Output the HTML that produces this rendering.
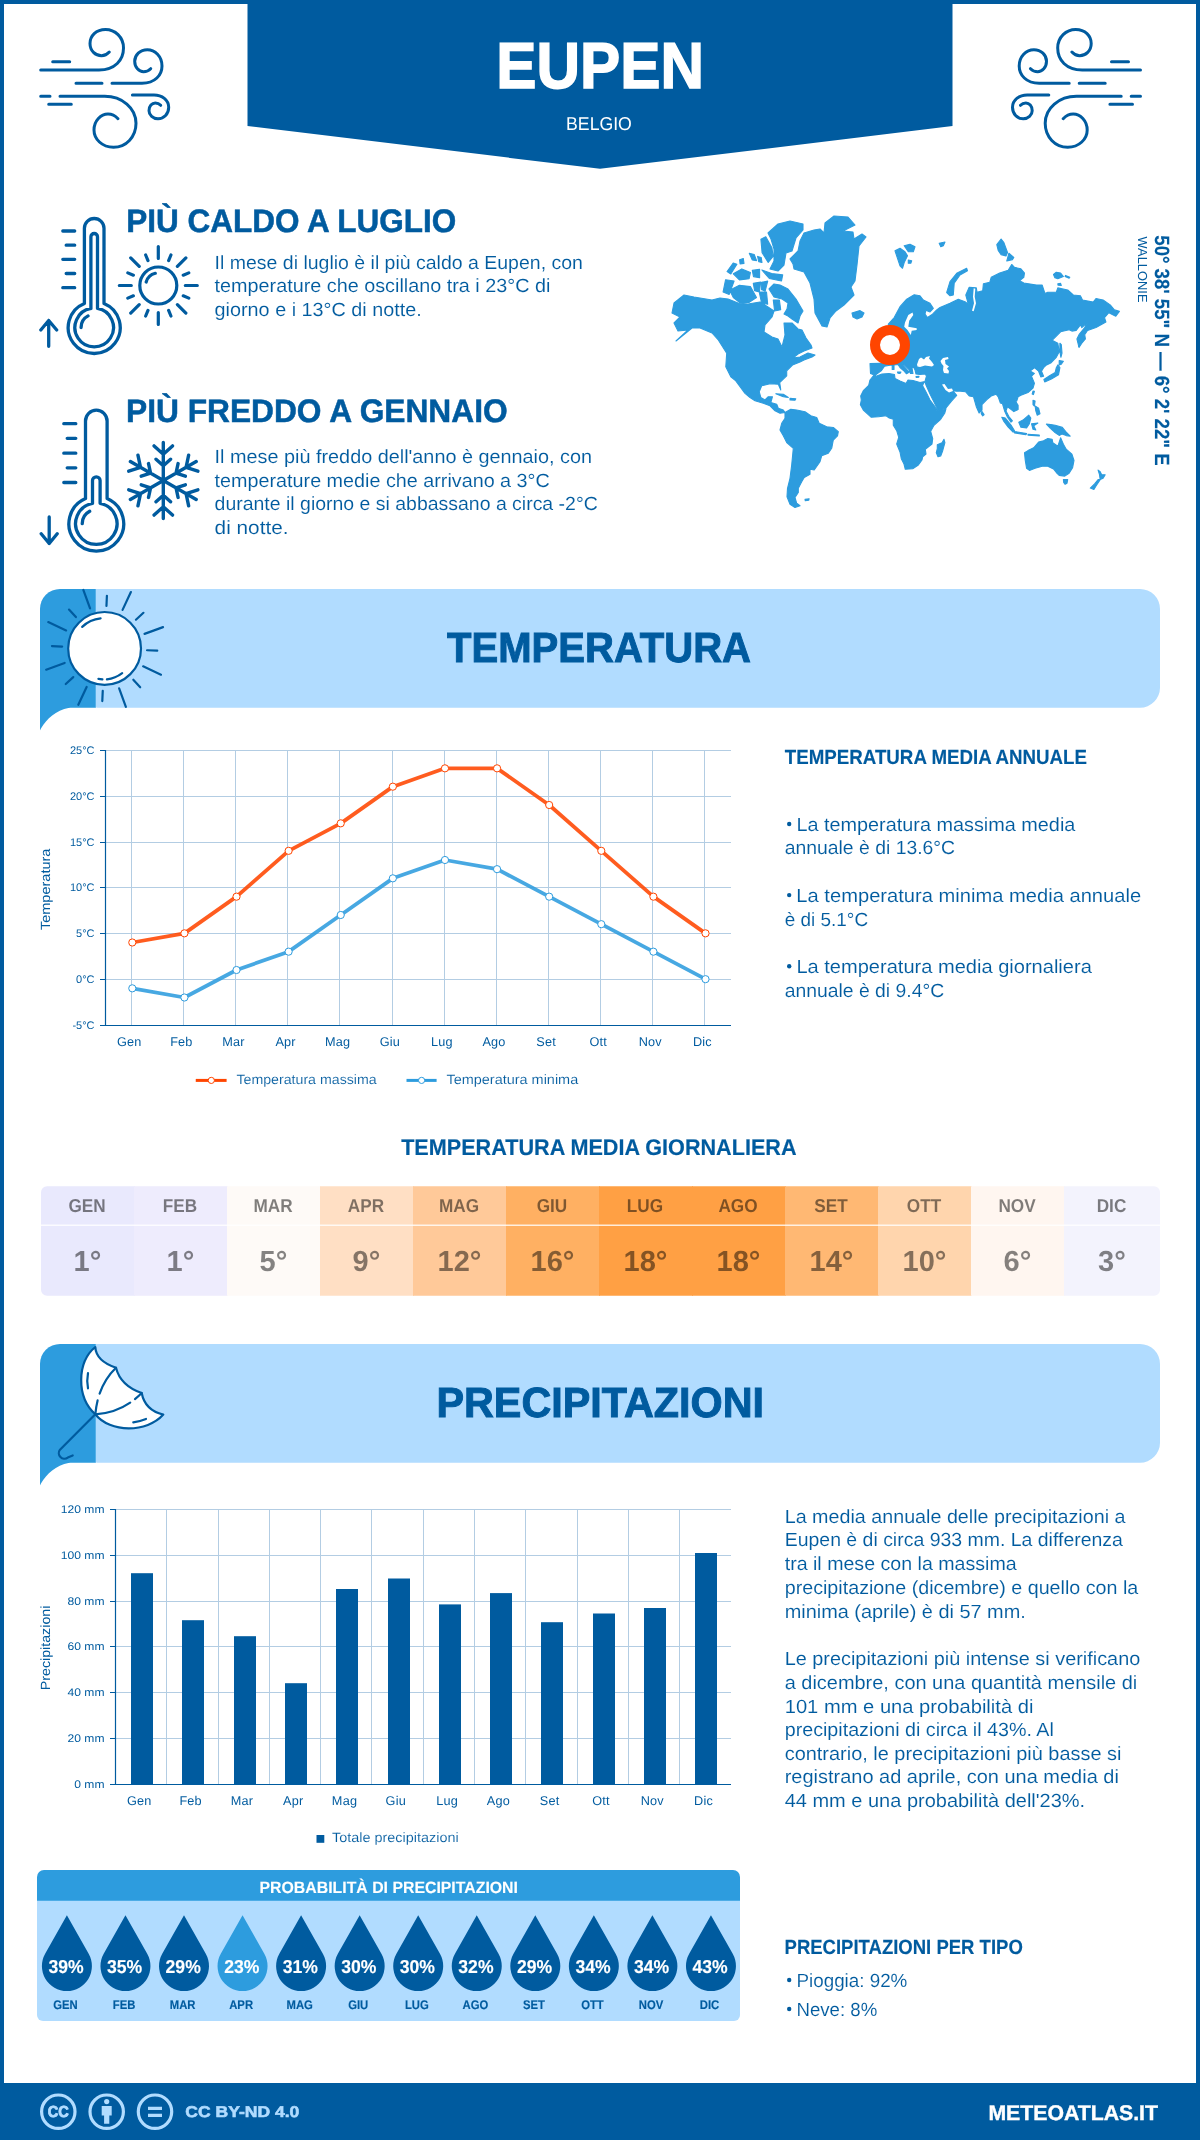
<!DOCTYPE html>
<html lang="it"><head><meta charset="utf-8"><title>Eupen - clima</title>
<style>html,body{margin:0;padding:0;background:#fff}body{width:1200px;height:2140px;overflow:hidden;font-family:"Liberation Sans",sans-serif}svg{display:block;will-change:transform;text-rendering:geometricPrecision}</style>
</head><body>
<svg width="1200" height="2140" viewBox="0 0 1200 2140" font-family="'Liberation Sans', sans-serif">
<rect x="0" y="0" width="1200" height="2140" fill="#fff"/>
<path d="M0,0H1200V2140H0Z M4,4V2083H1196V4Z" fill="#005b9f" fill-rule="evenodd"/>
<path d="M247.5,0H952.5V126L600,168.8L247.5,126Z" fill="#005b9f"/>
<text x="496.32" y="88.36" font-size="64.9" fill="#fff" stroke="#fff" stroke-width="1.48" stroke-linejoin="miter" stroke-miterlimit="2.5" textLength="207.68" lengthAdjust="spacingAndGlyphs" font-weight="bold">EUPEN</text>
<text x="566.09" y="130.40" font-size="18.6" fill="#fff" textLength="65.77" lengthAdjust="spacingAndGlyphs">BELGIO</text>
<path d="M40.7,70H99C115,70 123.5,60 123.5,48C123.5,37 115,29.5 105.5,29.5C96,29.5 90,36 90,43.5C90,51 95.5,55.7 101.5,55.7C105,55.7 107.5,54 109.3,52M112,83.3H142C155,83.3 162,75 162,66C162,56.5 155,49.7 147.3,49.7C140,49.7 134.7,55 134.7,61.3C134.7,67.5 139,71.7 143.5,71.7C146.5,71.7 149,70.5 150.7,68.7M60,96.3H104.7C122,96.3 136,108 136,123.3C136,137 126,147.3 113.5,147.3C102,147.3 94,139 94,130C94,120.5 101,114 108,114C112,114 115.5,116 118,118.7M132.4,95H154C162,95 168.7,100 168.7,107.3C168.7,114 164,118.7 158,118.7C153,118.7 149,115 149,110.7C149,106 152,103 155.3,103C157.5,103 159.5,104 160.7,105.3M52.7,61.7H69.7M76,83.3H102M40.7,96.3H50M48.7,104.3H71.3" fill="none" stroke="#005b9f" stroke-width="3" stroke-linecap="round"/>
<path d="M40.7,70H99C115,70 123.5,60 123.5,48C123.5,37 115,29.5 105.5,29.5C96,29.5 90,36 90,43.5C90,51 95.5,55.7 101.5,55.7C105,55.7 107.5,54 109.3,52M112,83.3H142C155,83.3 162,75 162,66C162,56.5 155,49.7 147.3,49.7C140,49.7 134.7,55 134.7,61.3C134.7,67.5 139,71.7 143.5,71.7C146.5,71.7 149,70.5 150.7,68.7M60,96.3H104.7C122,96.3 136,108 136,123.3C136,137 126,147.3 113.5,147.3C102,147.3 94,139 94,130C94,120.5 101,114 108,114C112,114 115.5,116 118,118.7M132.4,95H154C162,95 168.7,100 168.7,107.3C168.7,114 164,118.7 158,118.7C153,118.7 149,115 149,110.7C149,106 152,103 155.3,103C157.5,103 159.5,104 160.7,105.3M52.7,61.7H69.7M76,83.3H102M40.7,96.3H50M48.7,104.3H71.3" fill="none" stroke="#005b9f" stroke-width="3" stroke-linecap="round" transform="translate(1181.2,0) scale(-1,1)"/>
<path d="M84.40,303.42 V228.30 A9.80,9.80 0 0 1 104.00,228.30 V303.42 A26.00,26.00 0 1 1 84.40,303.42M90.90,308.48 V236.80 A3.30,3.30 0 0 1 97.50,236.80 V308.48 A19.30,19.30 0 1 1 90.90,308.48M81.08,327.50 A13.12,13.12 0 0 1 88.04,315.91M62.80,231.00 H74.70M66.20,245.20 H74.70M62.80,259.30 H74.70M66.20,273.50 H74.70M62.80,287.70 H74.70M48.7,346.3V320.5M40.8,330L48.7,320.5L56.7,330" fill="none" stroke="#005b9f" stroke-width="3.3" stroke-linecap="round" stroke-linejoin="round"/>
<path d="M85.50,498.52 V421.00 A10.80,10.80 0 0 1 107.10,421.00 V498.52 A27.40,27.40 0 1 1 85.50,498.52M92.50,503.35 V480.60 A3.80,3.80 0 0 1 100.10,480.60 V503.35 A20.70,20.70 0 1 1 92.50,503.35M82.22,523.70 A14.08,14.08 0 0 1 89.69,511.27M63.80,423.70 H75.80M67.20,438.30 H75.80M63.80,453.20 H75.80M67.20,467.80 H75.80M63.80,482.50 H75.80M49.2,517V543.5M41.2,533.8L49.2,543.5L57.2,533.8" fill="none" stroke="#005b9f" stroke-width="3.3" stroke-linecap="round" stroke-linejoin="round"/>
<circle cx="158.3" cy="285.5" r="18.5" fill="none" stroke="#005b9f" stroke-width="3.2"/>
<path d="M158.30,258.50 L158.30,246.50M168.63,260.56 L170.93,255.01M177.39,266.41 L185.88,257.92M183.24,275.17 L188.79,272.87M185.30,285.50 L197.30,285.50M183.24,295.83 L188.79,298.13M177.39,304.59 L185.88,313.08M168.63,310.44 L170.93,315.99M158.30,312.50 L158.30,324.50M147.97,310.44 L145.67,315.99M139.21,304.59 L130.72,313.08M133.36,295.83 L127.81,298.13M131.30,285.50 L119.30,285.50M133.36,275.17 L127.81,272.87M139.21,266.41 L130.72,257.92M147.97,260.56 L145.67,255.01M146.20,282.00 A12.5,12.5 0 0 1 155.30,273.30" fill="none" stroke="#005b9f" stroke-width="3.2" stroke-linecap="round"/>
<path d="M163.30,480.50 L163.30,442.50M163.30,454.20 L154.09,445.90M163.30,454.20 L172.51,445.90M163.30,465.80 L156.02,459.24M163.30,465.80 L170.58,459.24M163.30,480.50 L196.21,461.50M186.08,467.35 L188.65,455.22M186.08,467.35 L197.87,471.18M176.03,473.15 L178.07,463.56M176.03,473.15 L185.35,476.18M163.30,480.50 L196.21,499.50M186.08,493.65 L197.87,489.82M186.08,493.65 L188.65,505.78M176.03,487.85 L185.35,484.82M176.03,487.85 L178.07,497.44M163.30,480.50 L163.30,518.50M163.30,506.80 L172.51,515.10M163.30,506.80 L154.09,515.10M163.30,495.20 L170.58,501.76M163.30,495.20 L156.02,501.76M163.30,480.50 L130.39,499.50M140.52,493.65 L137.95,505.78M140.52,493.65 L128.73,489.82M150.57,487.85 L148.53,497.44M150.57,487.85 L141.25,484.82M163.30,480.50 L130.39,461.50M140.52,467.35 L128.73,471.18M140.52,467.35 L137.95,455.22M150.57,473.15 L141.25,476.18M150.57,473.15 L148.53,463.56" fill="none" stroke="#005b9f" stroke-width="3.4" stroke-linecap="round"/>
<text x="126.22" y="231.64" font-size="32.45" fill="#005b9f" stroke="#005b9f" stroke-width="0.53" stroke-linejoin="miter" stroke-miterlimit="2.5" textLength="330.05" lengthAdjust="spacingAndGlyphs" font-weight="bold">PIÙ CALDO A LUGLIO</text>
<text x="214.60" y="268.70" font-size="19" fill="#005b9f" stroke="#fff" stroke-width="0.1" textLength="368.28" lengthAdjust="spacingAndGlyphs">Il mese di luglio è il più caldo a Eupen, con</text>
<text x="214.60" y="292.00" font-size="19" fill="#005b9f" stroke="#fff" stroke-width="0.1" textLength="335.77" lengthAdjust="spacingAndGlyphs">temperature che oscillano tra i 23°C di</text>
<text x="214.60" y="315.60" font-size="19" fill="#005b9f" stroke="#fff" stroke-width="0.1" textLength="207.12" lengthAdjust="spacingAndGlyphs">giorno e i 13°C di notte.</text>
<text x="126.00" y="421.63" font-size="32.45" fill="#005b9f" stroke="#005b9f" stroke-width="0.53" stroke-linejoin="miter" stroke-miterlimit="2.5" textLength="381.63" lengthAdjust="spacingAndGlyphs" font-weight="bold">PIÙ FREDDO A GENNAIO</text>
<text x="214.60" y="463.30" font-size="19" fill="#005b9f" stroke="#fff" stroke-width="0.1" textLength="377.45" lengthAdjust="spacingAndGlyphs">Il mese più freddo dell'anno è gennaio, con</text>
<text x="214.60" y="486.70" font-size="19" fill="#005b9f" stroke="#fff" stroke-width="0.1" textLength="335.18" lengthAdjust="spacingAndGlyphs">temperature medie che arrivano a 3°C</text>
<text x="214.60" y="510.00" font-size="19" fill="#005b9f" stroke="#fff" stroke-width="0.1" textLength="383.16" lengthAdjust="spacingAndGlyphs">durante il giorno e si abbassano a circa -2°C</text>
<text x="214.60" y="533.75" font-size="19" fill="#005b9f" stroke="#fff" stroke-width="0.1" textLength="73.93" lengthAdjust="spacingAndGlyphs">di notte.</text>
<path d="M672.0,313.0 674.0,303.0 684.0,295.0 694.0,297.0 712.0,300.0 720.0,298.0 728.0,299.0 738.0,303.0 748.0,304.0 760.0,302.0 768.0,307.0 774.0,311.0 772.0,317.0 765.0,325.0 764.0,332.0 772.0,337.0 778.0,339.0 782.0,347.0 785.0,335.0 784.0,323.0 792.0,323.0 798.0,329.0 802.0,330.0 806.0,338.0 811.0,345.0 812.0,348.0 804.0,351.0 798.0,354.0 793.0,358.0 800.0,357.0 808.0,353.0 815.0,355.0 812.0,357.0 804.0,360.0 800.0,362.0 792.5,365.0 786.7,370.8 786.7,375.8 779.7,382.5 780.8,390.0 778.3,384.2 770.0,383.7 761.7,385.8 759.2,391.7 760.8,397.5 765.0,400.0 768.3,396.7 772.5,396.7 770.8,402.5 776.7,404.2 778.3,408.3 783.3,410.0 785.0,412.5 780.0,413.3 775.0,410.8 770.0,405.8 763.3,403.3 755.0,400.8 750.0,397.5 745.0,393.3 735.8,380.8 730.8,376.7 725.8,366.7 726.7,353.3 718.3,340.0 712.0,333.0 700.0,328.0 692.0,328.0 676.0,341.0 688.0,330.0 678.0,331.0 674.0,323.0 680.0,317.0ZM785.0,412.5 790.8,409.2 796.7,410.0 805.0,411.7 810.8,415.8 816.7,417.5 819.2,423.3 826.7,426.7 833.3,427.5 838.3,431.7 837.5,435.8 833.3,440.0 831.7,448.3 828.3,453.3 821.7,455.8 820.0,461.7 814.2,470.0 810.0,469.2 810.0,474.2 804.2,477.5 801.7,481.7 798.3,488.3 798.3,492.5 795.0,497.5 796.7,503.3 800.0,505.8 795.0,507.5 790.0,504.2 787.0,496.7 787.5,488.3 790.0,478.3 791.7,465.0 793.3,448.3 786.7,442.5 783.3,435.8 780.0,430.0 781.7,423.3 785.0,418.3ZM775.8,393.7 783.3,394.2 788.3,397.5 783.3,396.7ZM790.0,398.3 795.8,398.7 795.0,400.3 790.0,400.0ZM805.0,499.2 809.2,498.7 808.7,500.3 805.3,500.8ZM768.0,233.0 778.0,224.0 790.0,221.0 803.0,224.0 803.0,230.0 796.0,238.0 792.0,251.0 786.0,253.0 784.0,265.0 778.0,271.0 770.0,269.0 774.0,261.0 774.0,249.0 771.0,239.0ZM760.9,239.2 765.8,236.8 771.9,247.7 773.1,256.3 768.2,262.4 762.1,252.6ZM769.0,289.0 774.0,284.0 780.0,285.0 788.0,289.0 796.0,299.0 803.0,311.0 800.0,316.0 798.0,323.0 792.0,319.0 788.0,316.0 784.0,314.0 787.0,309.0 788.0,303.0 782.0,299.0 774.0,297.0ZM729.7,290.2 739.4,285.3 750.4,286.6 756.5,297.5 749.2,302.4 739.4,302.4 733.3,297.5ZM725.6,279.7 734.1,281.0 729.2,294.4 723.1,291.9ZM761.9,270.0 771.7,273.6 782.7,274.9 781.5,281.0 769.3,278.5ZM727.1,271.6 733.2,263.1 736.9,264.3 730.8,274.0ZM733.3,273.8 741.8,268.9 750.4,272.6 749.1,278.7 739.4,279.9ZM752.3,270.4 759.6,269.2 759.6,277.8 753.5,276.6ZM753.3,283.3 760.7,282.1 759.4,291.9 754.6,290.7ZM761.6,282.3 767.7,281.1 765.2,290.9 761.6,289.7ZM759.2,292.0 766.5,292.0 767.7,304.2 761.6,302.9ZM773.3,300.1 779.4,300.1 780.7,309.8 774.6,311.0ZM739.6,259.7 743.3,258.5 744.0,263.4 740.1,263.9ZM749.3,253.3 754.2,254.5 756.6,260.6 752.2,259.9ZM757.6,256.4 761.2,257.6 762.0,262.5 758.8,261.8ZM790.0,259.0 798.0,251.0 800.0,241.0 804.0,233.0 814.0,230.0 820.0,229.0 824.0,233.0 825.0,223.0 834.0,216.0 848.0,217.0 855.0,225.0 843.0,231.0 853.0,232.0 854.0,239.0 862.0,234.0 866.0,237.0 859.0,246.0 857.0,265.0 855.0,281.0 851.0,287.0 854.0,295.0 844.0,305.0 836.0,311.0 830.0,318.0 827.0,327.0 822.0,326.0 815.0,313.0 814.0,299.0 810.0,283.0 804.0,272.0 794.0,269.0 793.0,264.0ZM852.0,313.0 860.0,310.6 864.0,313.0 862.0,317.0 857.0,319.0 853.0,317.0ZM888.3,324.2 894.2,317.5 900.0,306.7 906.7,299.2 914.2,294.7 920.0,295.8 923.3,300.0 930.0,303.3 933.3,308.3 930.0,312.0 925.8,310.3 925.0,314.2 927.5,317.5 932.5,314.2 936.7,310.0 940.0,307.5 950.0,303.3 958.3,299.2 965.0,301.7 968.3,304.2 965.8,295.0 969.2,287.2 976.3,287.9 977.0,292.2 982.7,290.8 983.4,283.7 989.8,282.2 991.2,277.3 999.7,273.0 1008.2,270.2 1011.7,264.5 1014.5,267.4 1020.9,268.8 1024.5,273.0 1023.8,277.3 1019.5,280.8 1023.8,283.0 1036.5,285.1 1042.2,285.1 1045.0,293.6 1047.8,292.2 1056.3,292.2 1057.8,287.9 1067.7,290.0 1073.3,295.0 1080.4,295.7 1082.5,300.0 1093.2,302.1 1096.0,298.5 1103.1,300.0 1110.2,304.9 1114.4,309.9 1119.4,311.3 1115.8,316.2 1108.8,312.7 1104.5,317.7 1105.9,321.9 1096.0,327.6 1087.5,330.4 1084.7,334.7 1085.4,338.9 1081.8,343.2 1079.0,347.4 1076.9,338.9 1079.0,334.7 1084.7,327.6 1087.5,322.6 1081.8,327.6 1080.4,324.8 1076.2,330.4 1071.9,331.1 1069.1,329.7 1060.6,331.8 1052.1,340.3 1057.8,343.2 1059.2,351.7 1056.3,357.3 1050.7,363.0 1045.0,365.8 1047.8,363.5 1043.6,367.7 1041.5,371.2 1043.6,376.2 1040.8,376.9 1038.6,371.2 1034.4,367.7 1030.1,371.0 1034.4,373.4 1031.5,376.2 1034.4,383.3 1033.0,388.2 1028.0,392.5 1020.9,395.3 1018.1,396.8 1016.7,401.0 1014.5,398.9 1014.5,399.6 1018.1,405.2 1018.1,409.5 1013.8,411.6 1010.3,408.8 1007.5,406.7 1006.0,410.9 1008.9,416.6 1012.4,420.8 1011.0,422.2 1007.5,417.3 1004.6,410.9 1002.5,403.8 1000.4,403.1 998.2,396.8 996.1,394.2 991.2,396.0 986.9,399.6 982.0,404.5 982.0,410.2 979.1,413.0 976.3,406.7 973.5,396.8 969.2,396.0 965.7,391.8 960.0,391.1 956.7,391.3 952.7,390.7 956.7,395.3 951.3,401.3 946.0,408.0 937.3,410.4 937.0,408.0 934.0,402.0 930.0,394.0 926.0,385.0 925.0,381.5 926.5,376.0 925.0,374.0 920.0,374.5 916.0,374.0 915.0,370.0 913.5,367.0 912.0,368.0 913.0,373.5 910.5,373.5 909.0,369.5 907.0,367.5 904.0,364.5 901.0,363.2 903.5,365.8 906.5,369.2 909.0,372.2 906.5,373.8 903.5,370.5 900.0,367.5 898.0,364.5 894.0,365.0 890.0,365.2 884.5,366.2 881.5,370.5 875.0,375.2 870.5,373.5 870.0,363.5 880.0,363.2 885.0,364.0 890.0,345.0ZM874.0,375.0 876.0,376.2 882.0,374.0 889.0,373.5 894.5,374.5 895.0,378.5 900.0,381.0 906.0,383.5 908.0,380.0 913.0,380.5 920.0,382.5 925.0,381.5 924.0,382.5 922.5,385.5 926.0,392.0 930.0,400.0 934.5,406.0 937.0,410.5 946.0,408.7 944.7,413.3 940.7,419.3 934.0,425.3 930.7,431.3 932.7,438.7 932.0,444.0 925.3,449.3 926.0,454.0 922.7,456.7 922.0,460.0 918.0,465.3 912.7,468.7 905.3,469.3 904.0,464.0 901.3,458.7 900.0,452.0 896.7,444.0 898.7,437.3 896.7,430.7 893.3,425.3 893.3,419.3 889.3,418.0 886.0,415.7 878.7,416.7 871.3,417.3 863.3,410.0 860.4,404.7 861.3,400.0 860.7,396.0 863.3,390.7 868.7,385.3 870.0,380.0ZM937.3,444.7 942.0,442.7 944.0,439.3 944.9,442.7 942.7,450.7 940.7,456.0 938.0,456.7 936.3,452.7 937.3,448.7ZM982.0,412.0 984.0,414.7 982.7,415.7 981.7,414.0ZM892.2,365.5 894.0,365.5 894.0,369.5 892.2,369.5ZM897.5,372.0 901.0,372.0 900.0,373.5 898.0,373.2ZM916.0,376.5 919.0,376.2 918.8,377.2 916.2,377.4ZM946.7,292.5 950.0,281.7 956.7,273.3 966.7,268.3 967.5,270.8 960.0,275.0 954.2,283.3 953.3,295.0 950.0,295.8ZM895.0,250.8 900.0,248.3 905.0,251.7 907.5,255.8 904.2,262.5 902.5,268.3 900.0,265.8 897.5,258.3ZM904.2,245.8 910.0,244.2 915.0,246.7 913.3,251.7 908.3,251.7ZM908.3,260.0 911.7,260.8 910.8,263.3 908.3,263.3ZM939.2,243.3 945.0,242.0 943.3,245.8 940.8,246.7ZM996.8,244.7 1001.1,239.0 1003.9,242.6 1007.5,252.5 1006.0,256.0 1001.1,254.6 998.2,250.4ZM1008.9,253.2 1013.8,257.5 1012.4,259.6 1006.8,261.0ZM1053.5,274.5 1056.3,272.3 1060.6,273.0 1063.4,276.6 1057.8,278.7 1054.9,277.7ZM1065.5,275.4 1069.8,277.3 1069.1,278.3 1065.1,276.6ZM1057.8,283.7 1060.6,283.4 1061.3,285.4 1058.0,285.1ZM1059.9,343.2 1061.3,344.6 1062.0,353.1 1060.9,357.3 1059.9,351.7ZM1059.2,360.6 1063.4,361.3 1061.3,364.2 1059.2,364.9ZM1057.8,364.9 1059.9,367.7 1058.5,374.8 1051.4,379.0 1044.7,381.9 1043.9,379.5 1050.0,375.5 1055.2,372.4 1056.3,367.7ZM982.0,411.6 984.1,414.5 982.7,415.9 981.2,413.8ZM1001.8,417.3 1005.3,418.0 1011.0,425.1 1014.5,430.8 1013.1,432.2 1008.2,427.2 1003.9,421.5ZM1014.5,431.5 1026.6,433.6 1025.9,434.7 1014.5,432.9ZM1018.8,422.2 1023.0,420.1 1028.7,415.2 1030.8,418.0 1029.4,423.7 1026.6,427.9 1020.9,427.2ZM1031.5,423.7 1037.9,423.0 1033.7,425.8 1035.8,430.0 1033.0,429.3ZM1033.0,400.3 1035.1,401.0 1034.4,406.0 1033.0,404.5ZM1035.1,406.0 1038.6,408.1 1040.0,413.8 1037.2,415.2 1035.8,410.9ZM1033.0,391.1 1034.4,391.4 1033.4,394.6 1032.2,393.9ZM1046.4,424.1 1050.7,424.5 1055.2,425.2 1062.3,427.4 1066.0,431.9 1070.2,436.1 1066.2,435.6 1062.0,434.1 1059.2,435.4 1054.6,432.2 1050.4,428.3ZM1028.0,434.3 1039.3,435.0 1039.3,435.9 1028.0,435.1ZM1024.5,452.7 1028.0,450.6 1033.7,447.8 1038.6,442.1 1043.6,440.7 1047.8,438.5 1052.1,439.2 1052.8,442.8 1057.8,446.3 1059.2,442.1 1060.6,437.8 1063.4,444.2 1066.2,449.2 1071.9,454.1 1074.0,460.5 1072.6,467.6 1069.1,473.2 1064.8,476.1 1059.2,475.4 1056.3,472.5 1053.5,469.0 1047.8,466.2 1042.2,466.2 1035.1,468.3 1029.4,470.4 1026.6,468.3 1025.2,459.8ZM1063.4,479.6 1067.7,479.6 1067.0,483.2 1065.1,484.3 1063.7,482.5ZM1098.1,470.1 1100.2,471.8 1101.7,474.7 1105.2,474.7 1103.1,478.2 1100.2,479.6 1099.5,474.7ZM1100.2,479.6 1096.0,486.0 1093.9,489.5 1090.3,488.1 1094.6,483.9 1098.1,479.6Z" fill="#2d9cde" stroke="#2d9cde" stroke-width="1.1" stroke-linejoin="round"/>
<path d="M905.0,322.5 908.3,315.0 912.5,312.5 913.3,315.0 909.2,320.8 908.3,326.7 916.7,328.3 916.7,330.0 911.7,330.8 910.8,335.0 907.5,330.0 904.2,326.7ZM917.0,364.5 919.0,359.0 921.0,357.5 924.0,359.5 926.0,357.0 930.0,356.0 929.0,358.5 932.0,362.0 934.0,365.0 932.0,366.5 925.0,365.5 920.0,367.0 917.5,366.5ZM940.5,361.0 943.0,358.0 948.0,357.0 948.5,359.0 945.0,360.0 945.5,364.0 949.0,366.5 947.0,368.5 949.0,371.0 948.5,373.5 944.0,373.0 943.0,370.0 943.5,366.0 941.5,363.5ZM942.0,384.5 944.5,384.0 948.0,389.0 952.0,388.5 953.0,391.0 949.0,392.5 945.5,390.0ZM973.7,288.3 975.3,288.7 974.7,296.7 976.0,303.3 973.7,311.3 972.0,310.7 974.0,303.3 973.0,296.7Z" fill="#fff"/>
<circle cx="890" cy="345" r="15" fill="#fff" stroke="#ff4500" stroke-width="10"/>
<g transform="translate(1155,235.8) rotate(90)">
<text x="-0.48" y="-0.07" font-size="20.54" fill="#005b9f" stroke="#005b9f" stroke-width="0.15" stroke-linejoin="miter" stroke-miterlimit="2.5" textLength="230.30" lengthAdjust="spacingAndGlyphs" font-weight="bold">50° 38' 55" N — 6° 2' 22" E</text>
</g>
<g transform="translate(1138,236.4) rotate(90)">
<text x="0.00" y="0.00" font-size="13.1" fill="#005b9f" textLength="66.13" lengthAdjust="spacingAndGlyphs">WALLONIE</text>
</g>
<path d="M40,609.0 A20,20 0 0 1 60,589.0 H96 V744.0 H40Z" fill="#2d9cde"/>
<path d="M95.7,589.0 H1140 A20,20 0 0 1 1160,609.0 V687.7 A20,20 0 0 1 1140,707.7 H95.7Z" fill="#b1dcff"/>
<path d="M39,745.0 V732.4 L39.2,732.0 C44,722.0 52,713.0 64.2,709.0 C67,708.1 70,707.7 72.3,707.7 H97 V745.0 Z" fill="#fff"/>
<path d="M40,1364.0 A20,20 0 0 1 60,1344.0 H96 V1499.0 H40Z" fill="#2d9cde"/>
<path d="M95.7,1344.0 H1140 A20,20 0 0 1 1160,1364.0 V1442.7 A20,20 0 0 1 1140,1462.7 H95.7Z" fill="#b1dcff"/>
<path d="M39,1500.0 V1487.4 L39.2,1487.0 C44,1477.0 52,1468.0 64.2,1464.0 C67,1463.1 70,1462.7 72.3,1462.7 H97 V1500.0 Z" fill="#fff"/>
<text x="447.08" y="662.42" font-size="42.2" fill="#005b9f" stroke="#005b9f" stroke-width="0.96" stroke-linejoin="miter" stroke-miterlimit="2.5" textLength="303.94" lengthAdjust="spacingAndGlyphs" font-weight="bold">TEMPERATURA</text>
<text x="436.39" y="1417.42" font-size="42.2" fill="#005b9f" stroke="#005b9f" stroke-width="0.96" stroke-linejoin="miter" stroke-miterlimit="2.5" textLength="327.67" lengthAdjust="spacingAndGlyphs" font-weight="bold">PRECIPITAZIONI</text>
<path d="M106.45,605.94 L106.90,595.75M122.56,609.88 L130.89,592.03M135.93,619.69 L143.45,612.80M144.54,633.86 L163.05,627.13M147.06,650.25 L157.25,650.70M143.12,666.36 L160.97,674.69M133.31,679.73 L140.20,687.25M119.14,688.34 L125.87,706.85M102.75,690.86 L102.30,701.05M86.64,686.92 L78.31,704.77M73.27,677.11 L65.75,684.00M64.66,662.94 L46.15,669.67M62.14,646.55 L51.95,646.10M66.08,630.44 L48.23,622.11M75.89,617.07 L69.00,609.55M90.06,608.46 L83.33,589.95" fill="none" stroke="#005b9f" stroke-width="2.2" stroke-linecap="round"/>
<circle cx="104.6" cy="648.4" r="36.4" fill="#fff" stroke="#005b9f" stroke-width="2.2"/>
<path d="M82.2,626.9 A30.5,30.5 0 0 1 100.6,618.4 M98.4,678.9 L102.4,679.3 M106.9,679.3 A30.5,30.5 0 0 0 122.2,673.1" fill="none" stroke="#005b9f" stroke-width="2.2" stroke-linecap="round"/>
<path d="M95.3,1347 C77,1362 76,1397 95.3,1414.3 C110,1433 147,1433 163.3,1414.6 Q144.9,1410.2 141.7,1393 Q120.5,1385.6 116,1367.7 Q96,1361 95.3,1347Z" fill="#fff" stroke="#005b9f" stroke-width="2.2" stroke-linejoin="round"/>
<path d="M116,1367.7 Q98,1385 95.3,1414.3" fill="none" stroke="#005b9f" stroke-width="2.2" stroke-dasharray="31,7,40" stroke-linecap="round"/>
<path d="M141.7,1393 Q122,1413 95.3,1414.3" fill="none" stroke="#005b9f" stroke-width="2.2" stroke-dasharray="9,6,60" stroke-linecap="round"/>
<path d="M88,1373 Q86.5,1381 88,1388.3 M133.3,1422.3 Q140,1421.5 146,1419" fill="none" stroke="#005b9f" stroke-width="2.2" stroke-linecap="round"/>
<path d="M95.3,1414.3 L60,1449.7 A5.6,5.6 0 0 0 67.8,1457.6 L72.7,1455.5" fill="none" stroke="#005b9f" stroke-width="2.2" stroke-linecap="round" stroke-linejoin="round"/>
<path d="M105.5,750.5H731.0M105.5,796.5H731.0M105.5,842.5H731.0M105.5,887.5H731.0M105.5,933.5H731.0M105.5,979.5H731.0M131.5,750.5V1025.5M183.5,750.5V1025.5M235.5,750.5V1025.5M287.5,750.5V1025.5M339.5,750.5V1025.5M392.5,750.5V1025.5M444.5,750.5V1025.5M496.5,750.5V1025.5M548.5,750.5V1025.5M600.5,750.5V1025.5M652.5,750.5V1025.5M704.5,750.5V1025.5" fill="none" stroke="#b3cde3" stroke-width="1"/>
<path d="M105.5,750.0V1025.5H731.0M100.0,750.5H105.5M100.0,796.5H105.5M100.0,842.5H105.5M100.0,887.5H105.5M100.0,933.5H105.5M100.0,979.5H105.5M100.0,1025.5H105.5" fill="none" stroke="#005b9f" stroke-width="1.2"/>
<text x="94.50" y="753.90" font-size="11" fill="#005b9f" text-anchor="end">25°C</text>
<text x="94.50" y="799.90" font-size="11" fill="#005b9f" text-anchor="end">20°C</text>
<text x="94.50" y="845.90" font-size="11" fill="#005b9f" text-anchor="end">15°C</text>
<text x="94.50" y="890.90" font-size="11" fill="#005b9f" text-anchor="end">10°C</text>
<text x="94.50" y="936.90" font-size="11" fill="#005b9f" text-anchor="end">5°C</text>
<text x="94.50" y="982.90" font-size="11" fill="#005b9f" text-anchor="end">0°C</text>
<text x="94.50" y="1028.90" font-size="11" fill="#005b9f" text-anchor="end">-5°C</text>
<text x="129.30" y="1045.75" font-size="12.7" fill="#005b9f" text-anchor="middle" letter-spacing="0.2">Gen</text>
<text x="181.40" y="1045.75" font-size="12.7" fill="#005b9f" text-anchor="middle" letter-spacing="0.2">Feb</text>
<text x="233.50" y="1045.75" font-size="12.7" fill="#005b9f" text-anchor="middle" letter-spacing="0.2">Mar</text>
<text x="285.60" y="1045.75" font-size="12.7" fill="#005b9f" text-anchor="middle" letter-spacing="0.2">Apr</text>
<text x="337.70" y="1045.75" font-size="12.7" fill="#005b9f" text-anchor="middle" letter-spacing="0.2">Mag</text>
<text x="389.80" y="1045.75" font-size="12.7" fill="#005b9f" text-anchor="middle" letter-spacing="0.2">Giu</text>
<text x="441.90" y="1045.75" font-size="12.7" fill="#005b9f" text-anchor="middle" letter-spacing="0.2">Lug</text>
<text x="494.00" y="1045.75" font-size="12.7" fill="#005b9f" text-anchor="middle" letter-spacing="0.2">Ago</text>
<text x="546.10" y="1045.75" font-size="12.7" fill="#005b9f" text-anchor="middle" letter-spacing="0.2">Set</text>
<text x="598.20" y="1045.75" font-size="12.7" fill="#005b9f" text-anchor="middle" letter-spacing="0.2">Ott</text>
<text x="650.30" y="1045.75" font-size="12.7" fill="#005b9f" text-anchor="middle" letter-spacing="0.2">Nov</text>
<text x="702.40" y="1045.75" font-size="12.7" fill="#005b9f" text-anchor="middle" letter-spacing="0.2">Dic</text>
<g transform="translate(50.1,889.3) rotate(-90)">
<text x="0.00" y="0.00" font-size="13.3" fill="#005b9f" text-anchor="middle" textLength="81.5" lengthAdjust="spacingAndGlyphs">Temperatura</text>
</g>
<polyline points="132.30,942.50 184.41,933.33 236.52,896.67 288.63,850.83 340.74,823.33 392.85,786.67 444.96,768.33 497.07,768.33 549.18,805.00 601.29,850.83 653.40,896.67 705.51,933.33" fill="none" stroke="#ff4500" stroke-width="3.8" stroke-opacity="0.88" stroke-linejoin="round"/>
<circle cx="132.30" cy="942.50" r="3.6" fill="#fff" stroke="#ff4500" stroke-width="1"/>
<circle cx="184.41" cy="933.33" r="3.6" fill="#fff" stroke="#ff4500" stroke-width="1"/>
<circle cx="236.52" cy="896.67" r="3.6" fill="#fff" stroke="#ff4500" stroke-width="1"/>
<circle cx="288.63" cy="850.83" r="3.6" fill="#fff" stroke="#ff4500" stroke-width="1"/>
<circle cx="340.74" cy="823.33" r="3.6" fill="#fff" stroke="#ff4500" stroke-width="1"/>
<circle cx="392.85" cy="786.67" r="3.6" fill="#fff" stroke="#ff4500" stroke-width="1"/>
<circle cx="444.96" cy="768.33" r="3.6" fill="#fff" stroke="#ff4500" stroke-width="1"/>
<circle cx="497.07" cy="768.33" r="3.6" fill="#fff" stroke="#ff4500" stroke-width="1"/>
<circle cx="549.18" cy="805.00" r="3.6" fill="#fff" stroke="#ff4500" stroke-width="1"/>
<circle cx="601.29" cy="850.83" r="3.6" fill="#fff" stroke="#ff4500" stroke-width="1"/>
<circle cx="653.40" cy="896.67" r="3.6" fill="#fff" stroke="#ff4500" stroke-width="1"/>
<circle cx="705.51" cy="933.33" r="3.6" fill="#fff" stroke="#ff4500" stroke-width="1"/>
<polyline points="132.30,988.33 184.41,997.50 236.52,970.00 288.63,951.67 340.74,915.00 392.85,878.33 444.96,860.00 497.07,869.17 549.18,896.67 601.29,924.17 653.40,951.67 705.51,979.17" fill="none" stroke="#2d9cde" stroke-width="3.8" stroke-opacity="0.88" stroke-linejoin="round"/>
<circle cx="132.30" cy="988.33" r="3.6" fill="#fff" stroke="#2d9cde" stroke-width="1"/>
<circle cx="184.41" cy="997.50" r="3.6" fill="#fff" stroke="#2d9cde" stroke-width="1"/>
<circle cx="236.52" cy="970.00" r="3.6" fill="#fff" stroke="#2d9cde" stroke-width="1"/>
<circle cx="288.63" cy="951.67" r="3.6" fill="#fff" stroke="#2d9cde" stroke-width="1"/>
<circle cx="340.74" cy="915.00" r="3.6" fill="#fff" stroke="#2d9cde" stroke-width="1"/>
<circle cx="392.85" cy="878.33" r="3.6" fill="#fff" stroke="#2d9cde" stroke-width="1"/>
<circle cx="444.96" cy="860.00" r="3.6" fill="#fff" stroke="#2d9cde" stroke-width="1"/>
<circle cx="497.07" cy="869.17" r="3.6" fill="#fff" stroke="#2d9cde" stroke-width="1"/>
<circle cx="549.18" cy="896.67" r="3.6" fill="#fff" stroke="#2d9cde" stroke-width="1"/>
<circle cx="601.29" cy="924.17" r="3.6" fill="#fff" stroke="#2d9cde" stroke-width="1"/>
<circle cx="653.40" cy="951.67" r="3.6" fill="#fff" stroke="#2d9cde" stroke-width="1"/>
<circle cx="705.51" cy="979.17" r="3.6" fill="#fff" stroke="#2d9cde" stroke-width="1"/>
<path d="M195.75,1080.4H226.6" stroke="#ff4500" stroke-width="3"/><circle cx="211.3" cy="1080.4" r="3.1" fill="#fff" stroke="#ff4500"/>
<text x="236.42" y="1084.40" font-size="13.5" fill="#005b9f" stroke="#fff" stroke-width="0.12" textLength="140.25" lengthAdjust="spacingAndGlyphs">Temperatura massima</text>
<path d="M406.5,1080.4H436.6" stroke="#2d9cde" stroke-width="3"/><circle cx="421.6" cy="1080.4" r="3.1" fill="#fff" stroke="#2d9cde"/>
<text x="446.41" y="1084.40" font-size="13.5" fill="#005b9f" stroke="#fff" stroke-width="0.12" textLength="131.81" lengthAdjust="spacingAndGlyphs">Temperatura minima</text>
<text x="784.79" y="764.02" font-size="20.54" fill="#005b9f" stroke="#005b9f" stroke-width="0.15" stroke-linejoin="miter" stroke-miterlimit="2.5" textLength="302.25" lengthAdjust="spacingAndGlyphs" font-weight="bold">TEMPERATURA MEDIA ANNUALE</text>
<circle cx="789.2" cy="824.0" r="2.2" fill="#005b9f"/>
<text x="796.41" y="830.90" font-size="19" fill="#005b9f" stroke="#fff" stroke-width="0.1" textLength="278.93" lengthAdjust="spacingAndGlyphs">La temperatura massima media</text>
<text x="784.70" y="854.20" font-size="19" fill="#005b9f" stroke="#fff" stroke-width="0.1" textLength="170.39" lengthAdjust="spacingAndGlyphs">annuale è di 13.6°C</text>
<circle cx="789.2" cy="895.1" r="2.2" fill="#005b9f"/>
<text x="796.39" y="902.00" font-size="19" fill="#005b9f" stroke="#fff" stroke-width="0.1" textLength="344.74" lengthAdjust="spacingAndGlyphs">La temperatura minima media annuale</text>
<text x="784.70" y="925.50" font-size="19" fill="#005b9f" stroke="#fff" stroke-width="0.1" textLength="83.41" lengthAdjust="spacingAndGlyphs">è di 5.1°C</text>
<circle cx="789.2" cy="966.2" r="2.2" fill="#005b9f"/>
<text x="796.40" y="973.10" font-size="19" fill="#005b9f" stroke="#fff" stroke-width="0.1" textLength="295.42" lengthAdjust="spacingAndGlyphs">La temperatura media giornaliera</text>
<text x="784.70" y="996.60" font-size="19" fill="#005b9f" stroke="#fff" stroke-width="0.1" textLength="159.46" lengthAdjust="spacingAndGlyphs">annuale è di 9.4°C</text>
<text x="401.16" y="1154.72" font-size="22.61" fill="#005b9f" stroke="#005b9f" stroke-width="0.16" stroke-linejoin="miter" stroke-miterlimit="2.5" textLength="395.42" lengthAdjust="spacingAndGlyphs" font-weight="bold">TEMPERATURA MEDIA GIORNALIERA</text>
<clipPath id="tc"><rect x="41" y="1186.25" width="1119" height="109.5" rx="6"/></clipPath><g clip-path="url(#tc)">
<rect x="41" y="1186" width="94" height="110" fill="#e9e9fd"/>
<rect x="134" y="1186" width="94" height="110" fill="#eeecfd"/>
<rect x="227" y="1186" width="94" height="110" fill="#fefaf7"/>
<rect x="320" y="1186" width="94" height="110" fill="#ffdfc4"/>
<rect x="413" y="1186" width="94" height="110" fill="#ffc999"/>
<rect x="506" y="1186" width="94" height="110" fill="#ffb062"/>
<rect x="599" y="1186" width="94" height="110" fill="#ffa044"/>
<rect x="692" y="1186" width="94" height="110" fill="#ffa044"/>
<rect x="785" y="1186" width="94" height="110" fill="#ffb873"/>
<rect x="878" y="1186" width="94" height="110" fill="#ffd5ad"/>
<rect x="971" y="1186" width="94" height="110" fill="#fff6f0"/>
<rect x="1064" y="1186" width="96" height="110" fill="#f3f3fd"/>
<rect x="41" y="1224.6" width="1119" height="1.2" fill="#fff"/></g>
<text x="87.00" y="1212.00" font-size="18.68" fill="#000" textLength="37.24" lengthAdjust="spacingAndGlyphs" text-anchor="middle" font-weight="bold" fill-opacity="0.5" stroke-opacity="0.5">GEN</text>
<text x="87.50" y="1270.50" font-size="29.06" fill="#000" text-anchor="middle" font-weight="bold" fill-opacity="0.48">1°</text>
<text x="180.00" y="1212.00" font-size="18.68" fill="#000" textLength="34.37" lengthAdjust="spacingAndGlyphs" text-anchor="middle" font-weight="bold" fill-opacity="0.5" stroke-opacity="0.5">FEB</text>
<text x="180.50" y="1270.50" font-size="29.06" fill="#000" text-anchor="middle" font-weight="bold" fill-opacity="0.48">1°</text>
<text x="273.00" y="1212.00" font-size="18.68" fill="#000" textLength="39.14" lengthAdjust="spacingAndGlyphs" text-anchor="middle" font-weight="bold" fill-opacity="0.5" stroke-opacity="0.5">MAR</text>
<text x="273.50" y="1270.50" font-size="29.06" fill="#000" text-anchor="middle" font-weight="bold" fill-opacity="0.48">5°</text>
<text x="366.00" y="1212.00" font-size="18.68" fill="#000" textLength="36.29" lengthAdjust="spacingAndGlyphs" text-anchor="middle" font-weight="bold" fill-opacity="0.5" stroke-opacity="0.5">APR</text>
<text x="366.50" y="1270.50" font-size="29.06" fill="#000" text-anchor="middle" font-weight="bold" fill-opacity="0.48">9°</text>
<text x="459.00" y="1212.00" font-size="18.68" fill="#000" textLength="40.09" lengthAdjust="spacingAndGlyphs" text-anchor="middle" font-weight="bold" fill-opacity="0.5" stroke-opacity="0.5">MAG</text>
<text x="459.50" y="1270.50" font-size="29.06" fill="#000" text-anchor="middle" font-weight="bold" fill-opacity="0.48">12°</text>
<text x="552.00" y="1212.00" font-size="18.68" fill="#000" textLength="30.55" lengthAdjust="spacingAndGlyphs" text-anchor="middle" font-weight="bold" fill-opacity="0.5" stroke-opacity="0.5">GIU</text>
<text x="552.50" y="1270.50" font-size="29.06" fill="#000" text-anchor="middle" font-weight="bold" fill-opacity="0.48">16°</text>
<text x="645.00" y="1212.00" font-size="18.68" fill="#000" textLength="36.28" lengthAdjust="spacingAndGlyphs" text-anchor="middle" font-weight="bold" fill-opacity="0.5" stroke-opacity="0.5">LUG</text>
<text x="645.50" y="1270.50" font-size="29.06" fill="#000" text-anchor="middle" font-weight="bold" fill-opacity="0.48">18°</text>
<text x="738.00" y="1212.00" font-size="18.68" fill="#000" textLength="39.15" lengthAdjust="spacingAndGlyphs" text-anchor="middle" font-weight="bold" fill-opacity="0.5" stroke-opacity="0.5">AGO</text>
<text x="738.50" y="1270.50" font-size="29.06" fill="#000" text-anchor="middle" font-weight="bold" fill-opacity="0.48">18°</text>
<text x="831.00" y="1212.00" font-size="18.68" fill="#000" textLength="33.42" lengthAdjust="spacingAndGlyphs" text-anchor="middle" font-weight="bold" fill-opacity="0.5" stroke-opacity="0.5">SET</text>
<text x="831.50" y="1270.50" font-size="29.06" fill="#000" text-anchor="middle" font-weight="bold" fill-opacity="0.48">14°</text>
<text x="924.00" y="1212.00" font-size="18.68" fill="#000" textLength="34.36" lengthAdjust="spacingAndGlyphs" text-anchor="middle" font-weight="bold" fill-opacity="0.5" stroke-opacity="0.5">OTT</text>
<text x="924.50" y="1270.50" font-size="29.06" fill="#000" text-anchor="middle" font-weight="bold" fill-opacity="0.48">10°</text>
<text x="1017.00" y="1212.00" font-size="18.68" fill="#000" textLength="37.24" lengthAdjust="spacingAndGlyphs" text-anchor="middle" font-weight="bold" fill-opacity="0.5" stroke-opacity="0.5">NOV</text>
<text x="1017.50" y="1270.50" font-size="29.06" fill="#000" text-anchor="middle" font-weight="bold" fill-opacity="0.48">6°</text>
<text x="1111.50" y="1212.00" font-size="18.68" fill="#000" textLength="29.60" lengthAdjust="spacingAndGlyphs" text-anchor="middle" font-weight="bold" fill-opacity="0.5" stroke-opacity="0.5">DIC</text>
<text x="1112.00" y="1270.50" font-size="29.06" fill="#000" text-anchor="middle" font-weight="bold" fill-opacity="0.48">3°</text>
<path d="M115.5,1509.5H731.0M115.5,1555.5H731.0M115.5,1601.5H731.0M115.5,1646.5H731.0M115.5,1692.5H731.0M115.5,1738.5H731.0M166.5,1509.5V1784.5M218.5,1509.5V1784.5M269.5,1509.5V1784.5M320.5,1509.5V1784.5M371.5,1509.5V1784.5M423.5,1509.5V1784.5M474.5,1509.5V1784.5M525.5,1509.5V1784.5M577.5,1509.5V1784.5M628.5,1509.5V1784.5M679.5,1509.5V1784.5" fill="none" stroke="#b3cde3" stroke-width="1"/>
<rect x="131" y="1573.2" width="22" height="211.3" fill="#005b9f"/>
<rect x="182" y="1620.2" width="22" height="164.3" fill="#005b9f"/>
<rect x="234" y="1636.2" width="22" height="148.3" fill="#005b9f"/>
<rect x="285" y="1683.2" width="22" height="101.3" fill="#005b9f"/>
<rect x="336" y="1589.0" width="22" height="195.5" fill="#005b9f"/>
<rect x="388" y="1578.5" width="22" height="206.0" fill="#005b9f"/>
<rect x="439" y="1604.4" width="22" height="180.1" fill="#005b9f"/>
<rect x="490" y="1593.1" width="22" height="191.4" fill="#005b9f"/>
<rect x="541" y="1622.2" width="22" height="162.2" fill="#005b9f"/>
<rect x="593" y="1613.5" width="22" height="171.0" fill="#005b9f"/>
<rect x="644" y="1608.0" width="22" height="176.5" fill="#005b9f"/>
<rect x="695" y="1553.0" width="22" height="231.5" fill="#005b9f"/>
<path d="M115.5,1509.0V1784.5H731.0M110.0,1509.5H115.5M110.0,1555.5H115.5M110.0,1601.5H115.5M110.0,1646.5H115.5M110.0,1692.5H115.5M110.0,1738.5H115.5M110.0,1784.5H115.5" fill="none" stroke="#005b9f" stroke-width="1.2"/>
<text x="104.50" y="1512.90" font-size="11" fill="#005b9f" textLength="43.71" lengthAdjust="spacingAndGlyphs" text-anchor="end">120 mm</text>
<text x="104.50" y="1558.90" font-size="11" fill="#005b9f" textLength="43.71" lengthAdjust="spacingAndGlyphs" text-anchor="end">100 mm</text>
<text x="104.50" y="1604.90" font-size="11" fill="#005b9f" textLength="36.98" lengthAdjust="spacingAndGlyphs" text-anchor="end">80 mm</text>
<text x="104.50" y="1649.90" font-size="11" fill="#005b9f" textLength="36.98" lengthAdjust="spacingAndGlyphs" text-anchor="end">60 mm</text>
<text x="104.50" y="1695.90" font-size="11" fill="#005b9f" textLength="36.98" lengthAdjust="spacingAndGlyphs" text-anchor="end">40 mm</text>
<text x="104.50" y="1741.90" font-size="11" fill="#005b9f" textLength="36.98" lengthAdjust="spacingAndGlyphs" text-anchor="end">20 mm</text>
<text x="104.50" y="1787.90" font-size="11" fill="#005b9f" textLength="30.25" lengthAdjust="spacingAndGlyphs" text-anchor="end">0 mm</text>
<text x="139.34" y="1804.50" font-size="12.7" fill="#005b9f" text-anchor="middle" letter-spacing="0.2">Gen</text>
<text x="190.63" y="1804.50" font-size="12.7" fill="#005b9f" text-anchor="middle" letter-spacing="0.2">Feb</text>
<text x="241.92" y="1804.50" font-size="12.7" fill="#005b9f" text-anchor="middle" letter-spacing="0.2">Mar</text>
<text x="293.21" y="1804.50" font-size="12.7" fill="#005b9f" text-anchor="middle" letter-spacing="0.2">Apr</text>
<text x="344.50" y="1804.50" font-size="12.7" fill="#005b9f" text-anchor="middle" letter-spacing="0.2">Mag</text>
<text x="395.79" y="1804.50" font-size="12.7" fill="#005b9f" text-anchor="middle" letter-spacing="0.2">Giu</text>
<text x="447.08" y="1804.50" font-size="12.7" fill="#005b9f" text-anchor="middle" letter-spacing="0.2">Lug</text>
<text x="498.38" y="1804.50" font-size="12.7" fill="#005b9f" text-anchor="middle" letter-spacing="0.2">Ago</text>
<text x="549.66" y="1804.50" font-size="12.7" fill="#005b9f" text-anchor="middle" letter-spacing="0.2">Set</text>
<text x="600.96" y="1804.50" font-size="12.7" fill="#005b9f" text-anchor="middle" letter-spacing="0.2">Ott</text>
<text x="652.25" y="1804.50" font-size="12.7" fill="#005b9f" text-anchor="middle" letter-spacing="0.2">Nov</text>
<text x="703.54" y="1804.50" font-size="12.7" fill="#005b9f" text-anchor="middle" letter-spacing="0.2">Dic</text>
<g transform="translate(50.1,1647.9) rotate(-90)">
<text x="0.00" y="0.00" font-size="13.3" fill="#005b9f" text-anchor="middle" textLength="84.5" lengthAdjust="spacingAndGlyphs">Precipitazioni</text>
</g>
<rect x="316.5" y="1835" width="7.8" height="7.8" fill="#005b9f"/>
<text x="332.01" y="1842.40" font-size="13.5" fill="#005b9f" stroke="#fff" stroke-width="0.12" textLength="126.67" lengthAdjust="spacingAndGlyphs">Totale precipitazioni</text>
<text x="784.70" y="1523.30" font-size="19" fill="#005b9f" stroke="#fff" stroke-width="0.1" textLength="340.80" lengthAdjust="spacingAndGlyphs">La media annuale delle precipitazioni a</text>
<text x="784.70" y="1546.40" font-size="19" fill="#005b9f" stroke="#fff" stroke-width="0.1" textLength="338.22" lengthAdjust="spacingAndGlyphs">Eupen è di circa 933 mm. La differenza</text>
<text x="784.70" y="1570.20" font-size="19" fill="#005b9f" stroke="#fff" stroke-width="0.1" textLength="231.94" lengthAdjust="spacingAndGlyphs">tra il mese con la massima</text>
<text x="784.70" y="1593.70" font-size="19" fill="#005b9f" stroke="#fff" stroke-width="0.1" textLength="353.60" lengthAdjust="spacingAndGlyphs">precipitazione (dicembre) e quello con la</text>
<text x="784.70" y="1617.50" font-size="19" fill="#005b9f" stroke="#fff" stroke-width="0.1" textLength="241.08" lengthAdjust="spacingAndGlyphs">minima (aprile) è di 57 mm.</text>
<text x="784.70" y="1665.20" font-size="19" fill="#005b9f" stroke="#fff" stroke-width="0.1" textLength="355.58" lengthAdjust="spacingAndGlyphs">Le precipitazioni più intense si verificano</text>
<text x="784.70" y="1688.70" font-size="19" fill="#005b9f" stroke="#fff" stroke-width="0.1" textLength="352.55" lengthAdjust="spacingAndGlyphs">a dicembre, con una quantità mensile di</text>
<text x="784.70" y="1712.50" font-size="19" fill="#005b9f" stroke="#fff" stroke-width="0.1" textLength="248.73" lengthAdjust="spacingAndGlyphs">101 mm e una probabilità di</text>
<text x="784.70" y="1736.00" font-size="19" fill="#005b9f" stroke="#fff" stroke-width="0.1" textLength="269.14" lengthAdjust="spacingAndGlyphs">precipitazioni di circa il 43%. Al</text>
<text x="784.70" y="1759.80" font-size="19" fill="#005b9f" stroke="#fff" stroke-width="0.1" textLength="336.75" lengthAdjust="spacingAndGlyphs">contrario, le precipitazioni più basse si</text>
<text x="784.70" y="1783.30" font-size="19" fill="#005b9f" stroke="#fff" stroke-width="0.1" textLength="334.16" lengthAdjust="spacingAndGlyphs">registrano ad aprile, con una media di</text>
<text x="784.70" y="1807.10" font-size="19" fill="#005b9f" stroke="#fff" stroke-width="0.1" textLength="300.47" lengthAdjust="spacingAndGlyphs">44 mm e una probabilità dell'23%.</text>
<path d="M37,1877 A7,7 0 0 1 44,1870 H733 A7,7 0 0 1 740,1877 V1901 H37Z" fill="#2d9cde"/>
<path d="M37,1900.7 H740 V2015 A6,6 0 0 1 734,2021 H43 A6,6 0 0 1 37,2015Z" fill="#b1dcff"/>
<text x="259.53" y="1892.64" font-size="16.44" fill="#fff" stroke="#fff" stroke-width="0.12" stroke-linejoin="miter" stroke-miterlimit="2.5" textLength="258.44" lengthAdjust="spacingAndGlyphs" font-weight="bold">PROBABILITÀ DI PRECIPITAZIONI</text>
<path d="M66.90,1915.25 L88.67,1953.81 A25.00,25.00 0 1 1 45.13,1953.81 Z" fill="#005b9f"/>
<text x="66.10" y="1972.93" font-size="18.7" fill="#fff" stroke="#fff" stroke-width="0.13" stroke-linejoin="miter" stroke-miterlimit="2.5" text-anchor="middle" font-weight="bold" textLength="35.2" lengthAdjust="spacingAndGlyphs">39%</text>
<text x="65.50" y="2008.83" font-size="12.55" fill="#005b9f" stroke="#005b9f" stroke-width="0.15" stroke-linejoin="miter" stroke-miterlimit="2.5" textLength="24.48" lengthAdjust="spacingAndGlyphs" text-anchor="middle" font-weight="bold">GEN</text>
<path d="M125.45,1915.25 L147.22,1953.81 A25.00,25.00 0 1 1 103.68,1953.81 Z" fill="#005b9f"/>
<text x="124.65" y="1972.93" font-size="18.7" fill="#fff" stroke="#fff" stroke-width="0.13" stroke-linejoin="miter" stroke-miterlimit="2.5" text-anchor="middle" font-weight="bold" textLength="35.2" lengthAdjust="spacingAndGlyphs">35%</text>
<text x="124.05" y="2008.83" font-size="12.55" fill="#005b9f" stroke="#005b9f" stroke-width="0.15" stroke-linejoin="miter" stroke-miterlimit="2.5" textLength="22.59" lengthAdjust="spacingAndGlyphs" text-anchor="middle" font-weight="bold">FEB</text>
<path d="M184.00,1915.25 L205.77,1953.81 A25.00,25.00 0 1 1 162.23,1953.81 Z" fill="#005b9f"/>
<text x="183.20" y="1972.93" font-size="18.7" fill="#fff" stroke="#fff" stroke-width="0.13" stroke-linejoin="miter" stroke-miterlimit="2.5" text-anchor="middle" font-weight="bold" textLength="35.2" lengthAdjust="spacingAndGlyphs">29%</text>
<text x="182.60" y="2008.83" font-size="12.55" fill="#005b9f" stroke="#005b9f" stroke-width="0.15" stroke-linejoin="miter" stroke-miterlimit="2.5" textLength="25.72" lengthAdjust="spacingAndGlyphs" text-anchor="middle" font-weight="bold">MAR</text>
<path d="M242.55,1915.25 L264.32,1953.81 A25.00,25.00 0 1 1 220.78,1953.81 Z" fill="#2d9cde"/>
<text x="241.75" y="1972.93" font-size="18.7" fill="#fff" stroke="#fff" stroke-width="0.13" stroke-linejoin="miter" stroke-miterlimit="2.5" text-anchor="middle" font-weight="bold" textLength="35.2" lengthAdjust="spacingAndGlyphs">23%</text>
<text x="241.15" y="2008.83" font-size="12.55" fill="#005b9f" stroke="#005b9f" stroke-width="0.15" stroke-linejoin="miter" stroke-miterlimit="2.5" textLength="23.85" lengthAdjust="spacingAndGlyphs" text-anchor="middle" font-weight="bold">APR</text>
<path d="M301.10,1915.25 L322.87,1953.81 A25.00,25.00 0 1 1 279.33,1953.81 Z" fill="#005b9f"/>
<text x="300.30" y="1972.93" font-size="18.7" fill="#fff" stroke="#fff" stroke-width="0.13" stroke-linejoin="miter" stroke-miterlimit="2.5" text-anchor="middle" font-weight="bold" textLength="35.2" lengthAdjust="spacingAndGlyphs">31%</text>
<text x="299.70" y="2008.83" font-size="12.55" fill="#005b9f" stroke="#005b9f" stroke-width="0.15" stroke-linejoin="miter" stroke-miterlimit="2.5" textLength="26.35" lengthAdjust="spacingAndGlyphs" text-anchor="middle" font-weight="bold">MAG</text>
<path d="M359.65,1915.25 L381.42,1953.81 A25.00,25.00 0 1 1 337.88,1953.81 Z" fill="#005b9f"/>
<text x="358.85" y="1972.93" font-size="18.7" fill="#fff" stroke="#fff" stroke-width="0.13" stroke-linejoin="miter" stroke-miterlimit="2.5" text-anchor="middle" font-weight="bold" textLength="35.2" lengthAdjust="spacingAndGlyphs">30%</text>
<text x="358.25" y="2008.83" font-size="12.55" fill="#005b9f" stroke="#005b9f" stroke-width="0.15" stroke-linejoin="miter" stroke-miterlimit="2.5" textLength="20.08" lengthAdjust="spacingAndGlyphs" text-anchor="middle" font-weight="bold">GIU</text>
<path d="M418.20,1915.25 L439.97,1953.81 A25.00,25.00 0 1 1 396.43,1953.81 Z" fill="#005b9f"/>
<text x="417.40" y="1972.93" font-size="18.7" fill="#fff" stroke="#fff" stroke-width="0.13" stroke-linejoin="miter" stroke-miterlimit="2.5" text-anchor="middle" font-weight="bold" textLength="35.2" lengthAdjust="spacingAndGlyphs">30%</text>
<text x="416.80" y="2008.83" font-size="12.55" fill="#005b9f" stroke="#005b9f" stroke-width="0.15" stroke-linejoin="miter" stroke-miterlimit="2.5" textLength="23.84" lengthAdjust="spacingAndGlyphs" text-anchor="middle" font-weight="bold">LUG</text>
<path d="M476.75,1915.25 L498.52,1953.81 A25.00,25.00 0 1 1 454.98,1953.81 Z" fill="#005b9f"/>
<text x="475.95" y="1972.93" font-size="18.7" fill="#fff" stroke="#fff" stroke-width="0.13" stroke-linejoin="miter" stroke-miterlimit="2.5" text-anchor="middle" font-weight="bold" textLength="35.2" lengthAdjust="spacingAndGlyphs">32%</text>
<text x="475.35" y="2008.83" font-size="12.55" fill="#005b9f" stroke="#005b9f" stroke-width="0.15" stroke-linejoin="miter" stroke-miterlimit="2.5" textLength="25.73" lengthAdjust="spacingAndGlyphs" text-anchor="middle" font-weight="bold">AGO</text>
<path d="M535.30,1915.25 L557.07,1953.81 A25.00,25.00 0 1 1 513.53,1953.81 Z" fill="#005b9f"/>
<text x="534.50" y="1972.93" font-size="18.7" fill="#fff" stroke="#fff" stroke-width="0.13" stroke-linejoin="miter" stroke-miterlimit="2.5" text-anchor="middle" font-weight="bold" textLength="35.2" lengthAdjust="spacingAndGlyphs">29%</text>
<text x="533.90" y="2008.83" font-size="12.55" fill="#005b9f" stroke="#005b9f" stroke-width="0.15" stroke-linejoin="miter" stroke-miterlimit="2.5" textLength="21.97" lengthAdjust="spacingAndGlyphs" text-anchor="middle" font-weight="bold">SET</text>
<path d="M593.85,1915.25 L615.62,1953.81 A25.00,25.00 0 1 1 572.08,1953.81 Z" fill="#005b9f"/>
<text x="593.05" y="1972.93" font-size="18.7" fill="#fff" stroke="#fff" stroke-width="0.13" stroke-linejoin="miter" stroke-miterlimit="2.5" text-anchor="middle" font-weight="bold" textLength="35.2" lengthAdjust="spacingAndGlyphs">34%</text>
<text x="592.45" y="2008.83" font-size="12.55" fill="#005b9f" stroke="#005b9f" stroke-width="0.15" stroke-linejoin="miter" stroke-miterlimit="2.5" textLength="22.58" lengthAdjust="spacingAndGlyphs" text-anchor="middle" font-weight="bold">OTT</text>
<path d="M652.40,1915.25 L674.17,1953.81 A25.00,25.00 0 1 1 630.63,1953.81 Z" fill="#005b9f"/>
<text x="651.60" y="1972.93" font-size="18.7" fill="#fff" stroke="#fff" stroke-width="0.13" stroke-linejoin="miter" stroke-miterlimit="2.5" text-anchor="middle" font-weight="bold" textLength="35.2" lengthAdjust="spacingAndGlyphs">34%</text>
<text x="651.00" y="2008.83" font-size="12.55" fill="#005b9f" stroke="#005b9f" stroke-width="0.15" stroke-linejoin="miter" stroke-miterlimit="2.5" textLength="24.48" lengthAdjust="spacingAndGlyphs" text-anchor="middle" font-weight="bold">NOV</text>
<path d="M710.95,1915.25 L732.72,1953.81 A25.00,25.00 0 1 1 689.18,1953.81 Z" fill="#005b9f"/>
<text x="710.15" y="1972.93" font-size="18.7" fill="#fff" stroke="#fff" stroke-width="0.13" stroke-linejoin="miter" stroke-miterlimit="2.5" text-anchor="middle" font-weight="bold" textLength="35.2" lengthAdjust="spacingAndGlyphs">43%</text>
<text x="709.55" y="2008.83" font-size="12.55" fill="#005b9f" stroke="#005b9f" stroke-width="0.15" stroke-linejoin="miter" stroke-miterlimit="2.5" textLength="19.45" lengthAdjust="spacingAndGlyphs" text-anchor="middle" font-weight="bold">DIC</text>
<text x="784.57" y="1953.83" font-size="20.54" fill="#005b9f" stroke="#005b9f" stroke-width="0.15" stroke-linejoin="miter" stroke-miterlimit="2.5" textLength="238.23" lengthAdjust="spacingAndGlyphs" font-weight="bold">PRECIPITAZIONI PER TIPO</text>
<circle cx="789.2" cy="1980.0" r="2.2" fill="#005b9f"/>
<text x="796.50" y="1986.90" font-size="19" fill="#005b9f" stroke="#fff" stroke-width="0.1" textLength="110.83" lengthAdjust="spacingAndGlyphs">Pioggia: 92%</text>
<circle cx="789.2" cy="2009.0" r="2.2" fill="#005b9f"/>
<text x="796.51" y="2015.90" font-size="19" fill="#005b9f" stroke="#fff" stroke-width="0.1" textLength="80.75" lengthAdjust="spacingAndGlyphs">Neve: 8%</text>
<circle cx="58.3" cy="2111.7" r="16.7" fill="none" stroke="#b1dcff" stroke-width="3.2"/>
<circle cx="106.7" cy="2111.7" r="16.7" fill="none" stroke="#b1dcff" stroke-width="3.2"/>
<circle cx="155.0" cy="2111.7" r="16.7" fill="none" stroke="#b1dcff" stroke-width="3.2"/>
<text x="58.30" y="2117.17" font-size="15.98" fill="#b1dcff" stroke="#b1dcff" stroke-width="0.86" stroke-linejoin="miter" stroke-miterlimit="2.5" text-anchor="middle" font-weight="bold" textLength="21" lengthAdjust="spacingAndGlyphs">CC</text>
<circle cx="106.7" cy="2101.6" r="2.6" fill="#b1dcff"/><path d="M101.7,2106 h10 v9.5 h-2.4 v8.3 h-5.2 v-8.3 h-2.4Z" fill="#b1dcff"/>
<path d="M148,2108.3h14M148,2115.3h14" stroke="#b1dcff" stroke-width="3.2"/>
<text x="185.28" y="2117.12" font-size="15.57" fill="#b1dcff" stroke="#b1dcff" stroke-width="0.57" stroke-linejoin="miter" stroke-miterlimit="2.5" textLength="114.07" lengthAdjust="spacingAndGlyphs" font-weight="bold">CC BY-ND 4.0</text>
<text x="988.41" y="2119.50" font-size="21.23" fill="#fff" stroke="#fff" stroke-width="0.39" stroke-linejoin="miter" stroke-miterlimit="2.5" textLength="169.52" lengthAdjust="spacingAndGlyphs" font-weight="bold">METEOATLAS.IT</text>
</svg>
</body></html>
